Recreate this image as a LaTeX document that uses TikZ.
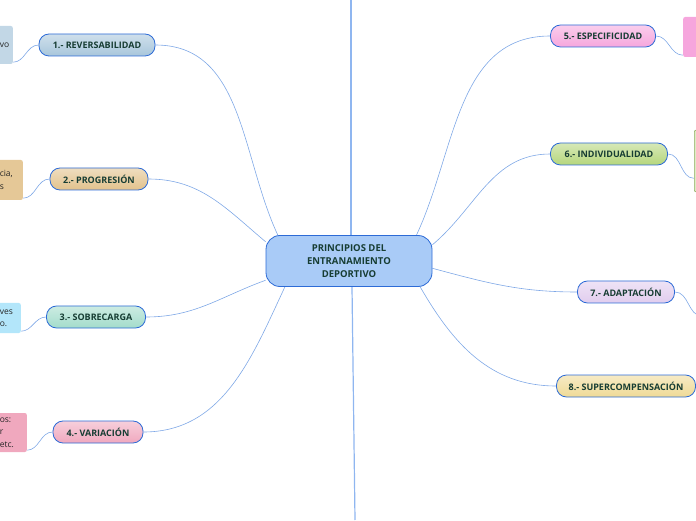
\documentclass[tikz,border=0pt]{standalone}
\usepackage{fontspec}
\setmainfont{Open Sans}
\usetikzlibrary{backgrounds}
\definecolor{linkblue}{HTML}{7FA8E6}
\definecolor{axisblue}{HTML}{8FB6F0}
\definecolor{rimblue}{HTML}{2D6BD6}
\definecolor{inkgreen}{HTML}{173D33}
\definecolor{rootfill}{HTML}{A9CBF7}
\definecolor{revfill}{HTML}{A8C6DB}
\definecolor{profill}{HTML}{E2C28C}
\definecolor{sobfill}{HTML}{A3DCCB}
\definecolor{varfill}{HTML}{F0A8BE}
\definecolor{espfill}{HTML}{F6A6DD}
\definecolor{indfill}{HTML}{B5D67C}
\definecolor{adafill}{HTML}{E1CDEE}
\definecolor{supfill}{HTML}{EFDA96}
\begin{document}
\begin{tikzpicture}[x=1pt,y=1pt,font=\fontsize{9}{13}\selectfont\bfseries,line join=round,line cap=round,
  topic/.style={draw=rimblue,line width=.8pt,rounded corners=10pt,minimum height=22pt,inner sep=0pt,text=inkgreen,top color=#1!55!white,bottom color=#1},
  detail/.style={fill=#1,rounded corners=2pt,inner ysep=0pt,inner xsep=4pt,align=left,font=\fontsize{8.5}{12.5}\selectfont,text=black!85},
  link/.style={draw=linkblue,line width=.6pt}]
\useasboundingbox (0,0) rectangle (696,520);
% centre
\node[draw=rimblue,line width=.8pt,fill=rootfill,rounded corners=14pt,minimum width=166pt,minimum height=51pt,align=center,text=inkgreen,font=\fontsize{9.5}{13}\selectfont\bfseries] (root) at (349,259) {PRINCIPIOS DEL\\ENTRANAMIENTO\\DEPORTIVO};
% principios
\node[topic=revfill,minimum width=116pt] (rev) at (97,475) {1.- REVERSABILIDAD};
\node[topic=profill,minimum width=98pt] (pro) at (99,341) {2.- PROGRESIÓN};
\node[topic=sobfill,minimum width=99pt] (sob) at (96,203) {3.- SOBRECARGA};
\node[topic=varfill,minimum width=90pt] (var) at (98,88) {4.- VARIACIÓN};
\node[topic=espfill,minimum width=105pt] (esp) at (603,484) {5.- ESPECIFICIDAD};
\node[topic=indfill,minimum width=117pt] (ind) at (609,366) {6.- INDIVIDUALIDAD};
\node[topic=adafill,minimum width=97pt] (ada) at (626,228) {7.- ADAPTACIÓN};
\node[topic=supfill,minimum width=139pt] (sup) at (626,134) {8.- SUPERCOMPENSACIÓN};
% notas (cortadas por el borde)
\node[detail=revfill!70!white,anchor=east,text width=9pt,minimum height=38pt] (drev) at (13,475) {vo};
\node[detail=profill!90!white,anchor=east,text width=19pt,minimum height=40pt] (dpro) at (23,340) {cia,\\s};
\node[detail=cyan!30!white,anchor=east,text width=17pt,minimum height=30pt] (dsob) at (21,202) {ves\\o.};
\node[detail=varfill,anchor=east,text width=23pt,minimum height=39pt] (dvar) at (27,87.5) {os:\\r\\etc.};
\node[detail=espfill,anchor=west,minimum width=60pt,minimum height=40pt] (desp) at (683,483) {};
\node[detail=indfill!45!white,draw=indfill!80!black,line width=.6pt,anchor=west,minimum width=60pt,minimum height=62pt] (dind) at (694,359) {};
\coordinate (dada) at (702,204);
\coordinate (top) at (351,520);
\coordinate (bot) at (355,0);
\begin{scope}[on background layer]
\draw[draw=axisblue,line width=1.2pt] (top) -- (top |- root.north);
\draw[draw=axisblue,line width=1.2pt] (root.south) ++(3,0) -- (bot);
\draw[link] (rev.east) to[out=0,in=115] (root.160);
\draw[link] (pro.east) to[out=0,in=140] (root.167);
\draw[link] (sob.east) to[out=0,in=200] (root.193);
\draw[link] (var.east) to[out=0,in=245] (root.202);
\draw[link] (esp.west) to[out=180,in=65] (root.21);
\draw[link] (ind.west) to[out=180,in=40] (root.11);
\draw[link] (ada.west) to[out=180,in=-15] (root.-5);
\draw[link] (sup.west) to[out=180,in=-60] (root.-20);
\draw[link] (rev.west) to[out=180,in=0] ([yshift=2pt]drev.south east);
\draw[link] (pro.west) to[out=180,in=0] ([yshift=2pt]dpro.south east);
\draw[link] (sob.west) to[out=180,in=0] ([yshift=2pt]dsob.south east);
\draw[link] (var.west) to[out=180,in=0] ([yshift=2pt]dvar.south east);
\draw[link] (esp.east) to[out=0,in=180] ([yshift=2pt]desp.south west);
\draw[link] (ind.east) to[out=0,in=180] ([yshift=14pt]dind.south west);
\draw[link] (ada.east) to[out=0,in=180] (dada);
\end{scope}
\end{tikzpicture}
\end{document}
